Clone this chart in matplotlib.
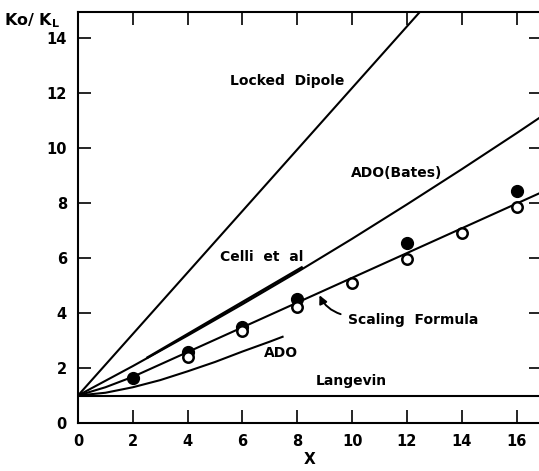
import matplotlib
matplotlib.use("Agg")
import matplotlib.pyplot as plt

plt.rcParams['font.family'] = ['DejaVu Sans']

# ---- data ----
langevin_x = [0, 17]
langevin_y = [1, 1]

dipole_x = [0, 13.5]
dipole_y = [1, 16.1]

bates_x = [0, 2, 4, 6, 8, 10, 12, 14, 16, 17]
bates_y = [1, 2.07, 3.18, 4.32, 5.49, 6.70, 7.95, 9.23, 10.54, 11.21]

celli_x = [2.5, 8.2]
celli_y = [2.36, 5.68]

scaling_x = [0, 1, 2, 4, 6, 8, 10, 12, 14, 16, 17]
scaling_y = [1, 1.30, 1.68, 2.58, 3.48, 4.38, 5.28, 6.18, 7.08, 7.98, 8.43]

ado_x = [0, 1, 2, 3, 4, 5, 6, 7, 7.5]
ado_y = [1, 1.10, 1.30, 1.56, 1.88, 2.22, 2.60, 2.96, 3.15]

filled_x = [2, 4, 6, 8, 12, 16]
filled_y = [1.64, 2.58, 3.50, 4.52, 6.56, 8.45]

open_x = [4, 6, 8, 10, 12, 14, 16]
open_y = [2.40, 3.36, 4.22, 5.10, 5.95, 6.90, 7.85]

xticks = [0, 2, 4, 6, 8, 10, 12, 14, 16]
yticks = [0, 2, 4, 6, 8, 10, 12, 14]
xticklabels = ['0', '2', '4', '6', '8', '10', '12', '14', '16']
yticklabels = ['0', '2', '4', '6', '8', '10', '12', '14']

# ---- figure ----
fig = plt.figure(figsize=(5.39, 4.71), dpi=100)
ax = fig.add_axes([78/539, 48/471, 464/539, 411/471])

lw = 1.5
for xs, ys in [(langevin_x, langevin_y), (dipole_x, dipole_y), (bates_x, bates_y),
               (scaling_x, scaling_y), (ado_x, ado_y)]:
    ax.plot(xs, ys, color='black', lw=lw, solid_capstyle='butt')
ax.plot(celli_x, celli_y, color='black', lw=1.8, solid_capstyle='butt')

ax.plot(filled_x, filled_y, 'o', color='black', ms=8.5, zorder=4)
ax.plot(open_x, open_y, 'o', mfc='white', mec='black', mew=1.8, ms=7.5, zorder=5)

ax.set_xlim(0, 16.93)
ax.set_ylim(0, 14.95)

ax.set_xticks(xticks)
ax.set_xticklabels(xticklabels)
ax.set_yticks(yticks)
ax.set_yticklabels(yticklabels)
ax.tick_params(direction='in', length=9.5, width=1.2, top=True, right=True,
               labelsize=10.5, pad=8)
for lab in ax.get_xticklabels() + ax.get_yticklabels():
    lab.set_fontweight('bold')
for s in ax.spines.values():
    s.set_linewidth(1.5)

tkw = dict(fontsize=10, fontweight='bold', ha='center', va='center')
ax.text(7.63, 12.44, 'Locked  Dipole', **tkw)
ax.text(11.64, 9.09, 'ADO(Bates)', **tkw)
ax.text(6.72, 6.04, 'Celli  et  al', **tkw)
ax.text(7.41, 2.55, 'ADO', **tkw)
ax.text(9.96, 1.53, 'Langevin', **tkw)
ax.text(9.85, 3.75, 'Scaling  Formula', fontsize=10, fontweight='bold', ha='left', va='center')
ax.annotate('', xy=(8.77, 4.74), xytext=(9.68, 3.93),
            arrowprops=dict(arrowstyle='-|>', color='black', lw=1.4,
                            connectionstyle='arc3,rad=-0.25', mutation_scale=12))

ax.set_xlabel('X', fontsize=11, fontweight='bold', labelpad=2)
fig.text(0.008, 0.957, r'Ko/ K$_{\mathregular{L}}$', fontsize=11.5, fontweight='bold',
         ha='left', va='center')

fig.savefig('out.png', dpi=100)
